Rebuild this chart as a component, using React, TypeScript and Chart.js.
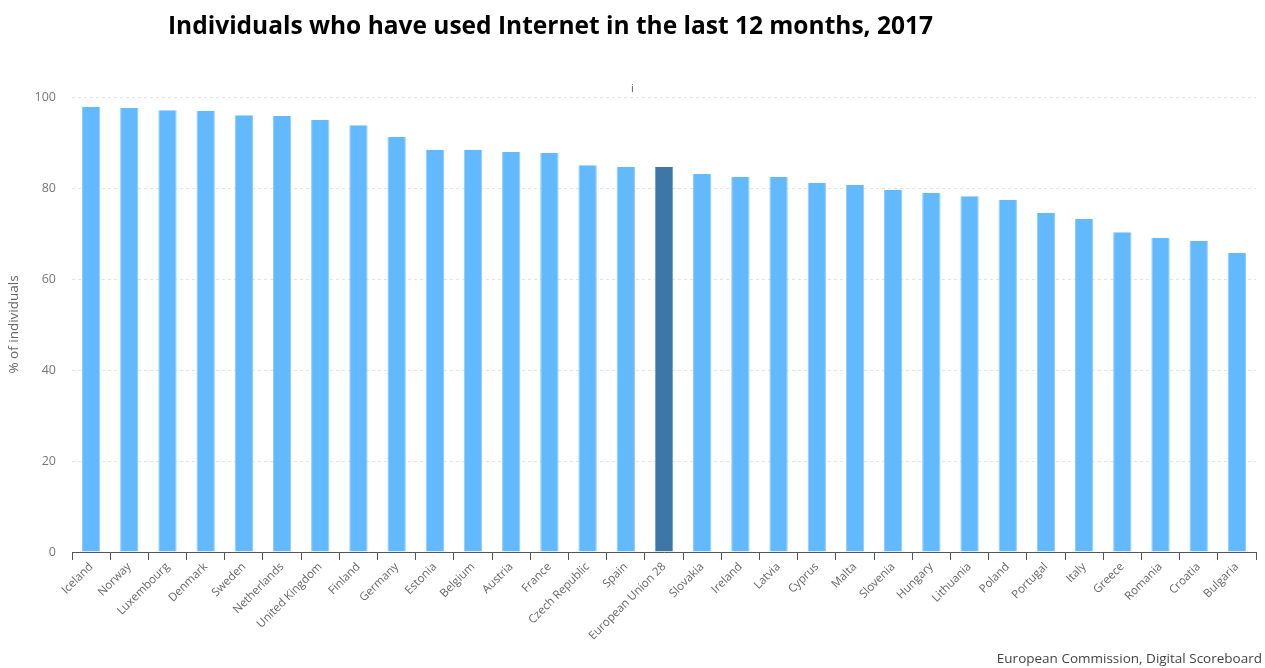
import React, { useEffect, useRef } from "react";
import { Chart, registerables } from "chart.js";

Chart.register(...registerables);

const countries = [
  "Iceland", "Norway", "Luxembourg", "Denmark", "Sweden", "Netherlands", "United Kingdom",
  "Finland", "Germany", "Estonia", "Belgium", "Austria", "France", "Czech Republic", "Spain",
  "European Union 28", "Slovakia", "Ireland", "Latvia", "Cyprus", "Malta", "Slovenia",
  "Hungary", "Lithuania", "Poland", "Portugal", "Italy", "Greece", "Romania", "Croatia", "Bulgaria",
];

const values = [
  97.8, 97.6, 97.1, 97.0, 96.0, 95.8, 95.0, 93.8, 91.2, 88.4, 88.4, 87.9, 87.7, 85.0, 84.6,
  84.6, 83.1, 82.4, 82.4, 81.1, 80.7, 79.6, 78.9, 78.2, 77.4, 74.5, 73.2, 70.3, 69.0, 68.4, 65.7,
];

const highlight = "European Union 28";
const yTicks = [0, 20, 40, 60, 80, 100];

const title = "Individuals who have used Internet in the last 12 months, 2017";
const yTitle = "% of individuals";
const source = "European Commission, Digital Scoreboard";

export default function App() {
  const ref = useRef<HTMLCanvasElement | null>(null);

  useEffect(() => {
    if (!ref.current) return;
    const colors = countries.map((c) => (c === highlight ? "#3d77a8" : "#63b9fd"));
    const borders = countries.map((c) => (c === highlight ? "#6f9dc4" : "#8ccbfd"));
    const chart = new Chart(ref.current, {
      type: "bar",
      data: {
        labels: countries,
        datasets: [
          {
            data: values,
            backgroundColor: colors,
            borderColor: borders,
            borderWidth: { left: 1, right: 1, top: 0, bottom: 0 } as any,
            barPercentage: 0.48,
            categoryPercentage: 1,
          },
        ],
      },
      options: {
        animation: false,
        responsive: false,
        maintainAspectRatio: false,
        layout: { padding: { top: 97, right: 9, bottom: 0, left: 0 } },
        plugins: { legend: { display: false }, tooltip: { enabled: false }, title: { display: false } },
        scales: {
          x: {
            grid: { offset: true, drawOnChartArea: false, tickLength: 8, color: "#555" },
            border: { color: "#555", width: 1 },
            ticks: {
              minRotation: 45,
              maxRotation: 45,
              autoSkip: false,
              color: "#666",
              font: { family: "Open Sans", size: 11.5 },
              padding: 0,
            },
            afterFit: (s: any) => {
              s.height = 116;
            },
          },
          y: {
            min: 0,
            max: 100,
            afterBuildTicks: (s: any) => {
              s.ticks = yTicks.map((v) => ({ value: v }));
            },
            grid: { color: "#e3e3e3", drawTicks: false },
            border: { display: false, dash: [3, 3] },
            ticks: { color: "#777", font: { family: "Open Sans", size: 12.5 }, padding: 16 },
            title: {
              display: true,
              text: yTitle,
              color: "#666",
              font: { family: "Open Sans", size: 13.5 },
              padding: { top: 6, bottom: 0 },
            },
            afterFit: (s: any) => {
              s.width = 72;
            },
          },
        },
      },
    });
    return () => chart.destroy();
  }, []);

  return (
    <div style={{ position: "fixed", left: 0, top: 0, width: 1265, height: 668, background: "#fff" }}>
      <canvas ref={ref} width={1265} height={668} style={{ position: "absolute", left: 0, top: 0 }} />
      <div
        style={{
          position: "absolute",
          left: 168,
          top: 8,
          fontFamily: "Open Sans",
          fontWeight: 700,
          fontSize: 24.5,
          color: "#000",
          whiteSpace: "nowrap",
        }}
      >
        {title}
      </div>
      <div
        style={{
          position: "absolute",
          left: 631,
          top: 80,
          fontFamily: "Open Sans",
          fontSize: 11,
          color: "#555",
        }}
      >
        i
      </div>
      <div
        style={{
          position: "absolute",
          right: 3,
          top: 649,
          fontFamily: "Open Sans",
          fontSize: 13.5,
          color: "#444",
          whiteSpace: "nowrap",
        }}
      >
        {source}
      </div>
    </div>
  );
}
